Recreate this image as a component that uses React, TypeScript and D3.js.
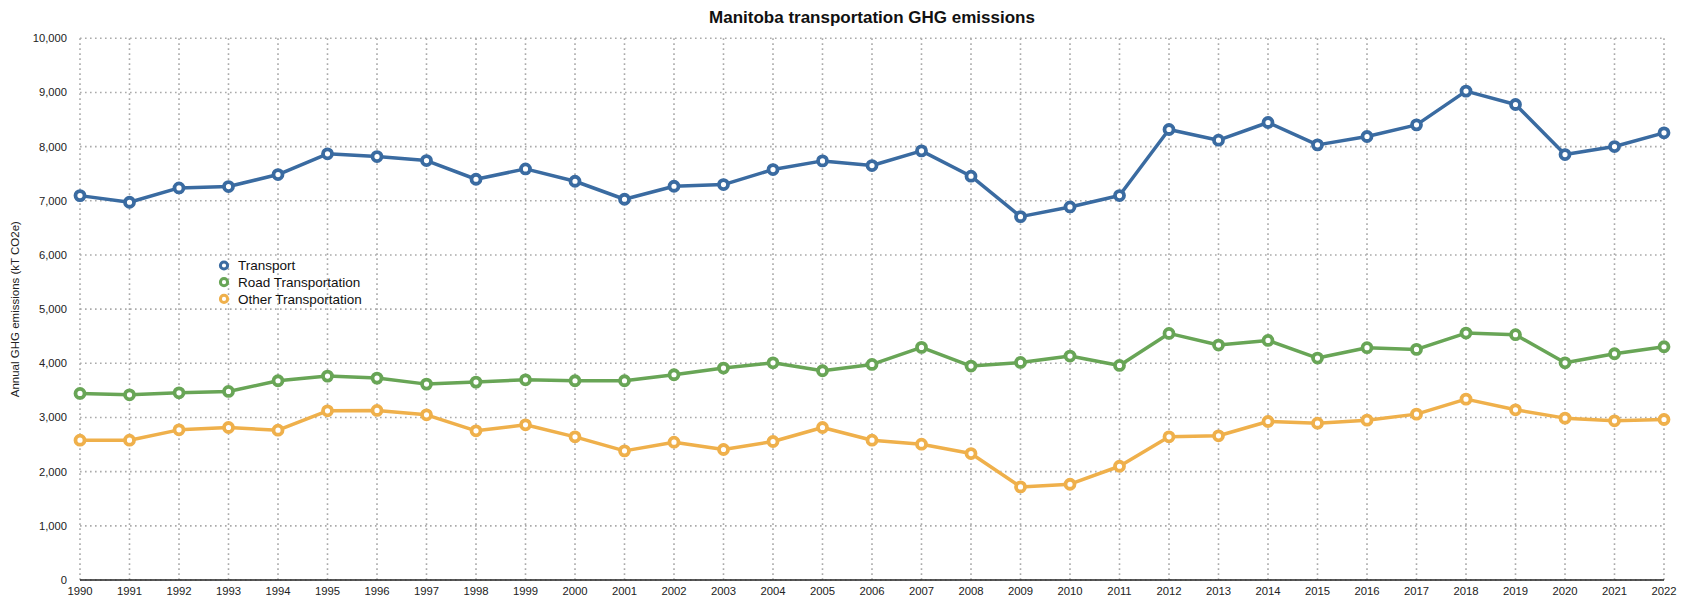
import React from "react";
import * as d3 from "d3";

const years: number[] = [
  1990, 1991, 1992, 1993, 1994, 1995, 1996, 1997, 1998, 1999, 2000, 2001, 2002, 2003, 2004, 2005,
  2006, 2007, 2008, 2009, 2010, 2011, 2012, 2013, 2014, 2015, 2016, 2017, 2018, 2019, 2020, 2021, 2022,
];

const transport: number[] = [
  7096, 6973, 7238, 7263, 7485, 7867, 7817, 7743, 7398, 7589, 7361, 7029, 7269, 7300, 7577, 7737,
  7651, 7922, 7454, 6708, 6887, 7097, 8316, 8119, 8446, 8033, 8187, 8402, 9025, 8778, 7854, 8002, 8255,
];

const road: number[] = [
  3444, 3419, 3456, 3481, 3678, 3764, 3727, 3616, 3653, 3696, 3678, 3678, 3789, 3912, 4010, 3863,
  3979, 4294, 3949, 4016, 4134, 3961, 4552, 4337, 4423, 4097, 4288, 4257, 4559, 4528, 4010, 4177, 4306,
];

const other: number[] = [
  2581, 2581, 2772, 2815, 2766, 3123, 3130, 3049, 2754, 2865, 2643, 2384, 2544, 2409, 2557, 2815,
  2581, 2507, 2334, 1719, 1768, 2100, 2643, 2662, 2926, 2895, 2951, 3062, 3339, 3142, 2988, 2939, 2963,
];

const seriesNames: string[] = ["Transport", "Road Transportation", "Other Transportation"];
const seriesColors: string[] = ["#3a6ba1", "#68a556", "#efb04b"];
const yTicks: number[] = [0, 1000, 2000, 3000, 4000, 5000, 6000, 7000, 8000, 9000, 10000];

const title = "Manitoba transportation GHG emissions";
const yTitle = "Annual GHG emissions (kT CO2e)";

export default function App() {
  const W = 1695;
  const H = 600;
  const left = 80;
  const right = 1664;
  const top = 38.3;
  const bottom = 580;

  const x = d3.scaleLinear().domain([1990, 2022]).range([left, right]);
  const y = d3.scaleLinear().domain([0, 10000]).range([bottom, top]);
  const fmt = d3.format(",");

  const allSeries = [transport, road, other];
  const line = d3
    .line<number>()
    .x((_, i) => x(years[i]))
    .y((d) => y(d));

  const font = "'Liberation Sans', Arial, Helvetica, sans-serif";

  return (
    <svg
      width={W}
      height={H}
      style={{ position: "absolute", left: 0, top: 0, background: "#fff" }}
      fontFamily={font}
    >
      {/* grid */}
      <g stroke="#aaaaaa" strokeWidth={1.6} strokeDasharray="1.6,3.4" fill="none">
        {yTicks.map((t) => (
          <line key={"h" + t} x1={left} x2={right} y1={y(t)} y2={y(t)} />
        ))}
        {years.map((yr) => (
          <line key={"v" + yr} x1={x(yr)} x2={x(yr)} y1={top} y2={bottom} />
        ))}
      </g>

      {/* x axis line */}
      <line x1={left} x2={right} y1={bottom} y2={bottom} stroke="#222" strokeWidth={1.5} />

      {/* y tick labels */}
      <g fontSize={11.2} fill="#222" textAnchor="end">
        {yTicks.map((t) => (
          <text key={"yl" + t} x={67} y={y(t) + 4}>
            {fmt(t)}
          </text>
        ))}
      </g>

      {/* x tick labels */}
      <g fontSize={11.3} fill="#222" textAnchor="middle">
        {years.map((yr) => (
          <text key={"xl" + yr} x={x(yr)} y={595}>
            {yr}
          </text>
        ))}
      </g>

      {/* y axis title */}
      <text
        transform={`translate(18.5, ${(top + bottom) / 2}) rotate(-90)`}
        textAnchor="middle"
        fontSize={11.5}
        fill="#222"
      >
        {yTitle}
      </text>

      {/* title */}
      <text x={(left + right) / 2} y={23} textAnchor="middle" fontSize={17} fontWeight="bold" fill="#111">
        {title}
      </text>

      {/* series */}
      {allSeries.map((s, si) => (
        <g key={"s" + si}>
          <path d={line(s) || ""} fill="none" stroke={seriesColors[si]} strokeWidth={3.5} strokeLinejoin="round" />
          {s.map((v, i) => (
            <circle
              key={i}
              cx={x(years[i])}
              cy={y(v)}
              r={4.5}
              fill="#fff"
              stroke={seriesColors[si]}
              strokeWidth={3.8}
            />
          ))}
        </g>
      ))}

      {/* legend */}
      <g>
        {seriesNames.map((n, i) => (
          <g key={"lg" + i} transform={`translate(224, ${265.5 + i * 16.7})`}>
            <circle cx={0} cy={0} r={3.6} fill="#fff" stroke={seriesColors[i]} strokeWidth={3} />
            <text x={14} y={4.8} fontSize={13.5} fill="#111">
              {n}
            </text>
          </g>
        ))}
      </g>
    </svg>
  );
}
